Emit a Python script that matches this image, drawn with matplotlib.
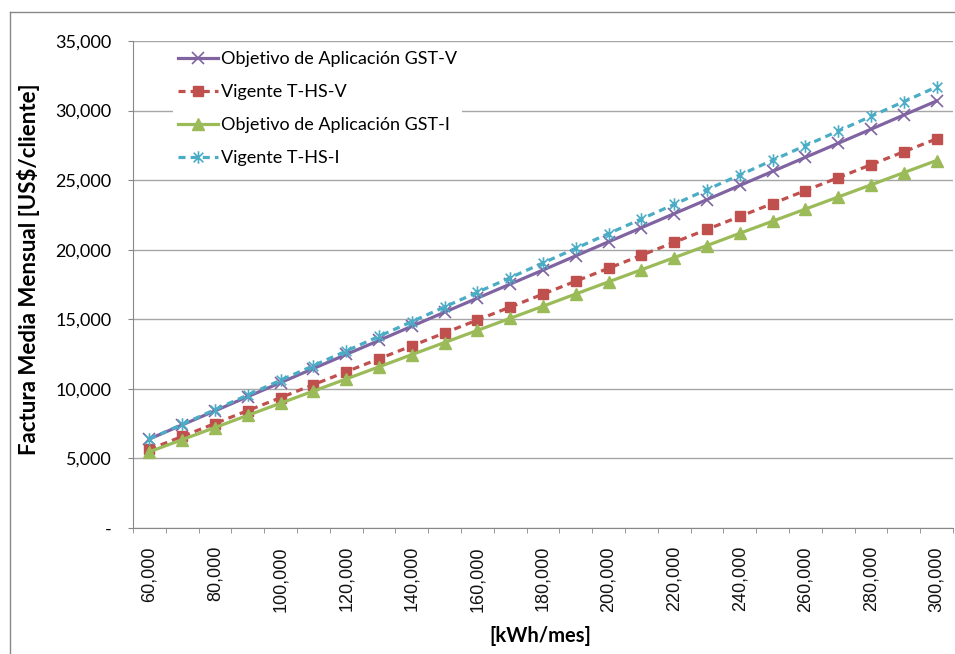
import matplotlib
matplotlib.use("Agg")
import matplotlib.pyplot as plt
from matplotlib.path import Path
from matplotlib.lines import Line2D
from matplotlib.ticker import FuncFormatter, FixedLocator

plt.rcParams['font.family'] = ['Lato', 'DejaVu Sans']

# consumo mensual (categorias)
kwh = [60000, 70000, 80000, 90000, 100000, 110000, 120000, 130000, 140000,
       150000, 160000, 170000, 180000, 190000, 200000, 210000, 220000,
       230000, 240000, 250000, 260000, 270000, 280000, 290000, 300000]

gst_v = [6400, 7410, 8420, 9440, 10450, 11460, 12470, 13480, 14500, 15510,
         16520, 17530, 18540, 19560, 20570, 21580, 22590, 23600, 24620,
         25630, 26640, 27650, 28660, 29680, 30690]
ths_v = [5650, 6580, 7510, 8440, 9370, 10300, 11230, 12160, 13090, 14020,
         14950, 15880, 16810, 17740, 18670, 19600, 20530, 21460, 22390,
         23320, 24250, 25180, 26110, 27040, 27970]
gst_i = [5480, 6350, 7220, 8100, 8970, 9840, 10710, 11580, 12460, 13330,
         14200, 15070, 15940, 16820, 17690, 18560, 19430, 20300, 21180,
         22050, 22920, 23790, 24660, 25540, 26410]
ths_i = [6400, 7450, 8510, 9560, 10620, 11670, 12720, 13780, 14830, 15890,
         16940, 17990, 19050, 20100, 21160, 22210, 23260, 24320, 25370,
         26430, 27480, 28530, 29590, 30640, 31700]

labels = ["Objetivo de Aplicación GST-V", "Vigente T-HS-V",
          "Objetivo de Aplicación GST-I", "Vigente T-HS-I"]

# asterisk marker like excel (x plus vertical bar)
ast = Path([(-1, -1), (1, 1), (-1, 1), (1, -1), (0, -1.3), (0, 1.3)],
           [Path.MOVETO, Path.LINETO, Path.MOVETO, Path.LINETO,
            Path.MOVETO, Path.LINETO])

fig = plt.figure(figsize=(9.55, 6.54), dpi=100)
ax = fig.add_axes([133/955, 1-528/654, (953-133)/955, (528-41)/654])

pos = list(range(len(kwh)))
lw = 2.3
ax.plot(pos, gst_v, color='#8064A2', lw=lw, marker='x', ms=8, mew=1.2,
        label=labels[0], zorder=3)
ax.plot(pos, ths_v, color='#C0504D', lw=lw, ls=(0, (2.2, 1.6)), marker='s',
        ms=7.5, mec='#C0504D', label=labels[1], zorder=3)
ax.plot(pos, gst_i, color='#9BBB59', lw=lw, marker='^', ms=8,
        label=labels[2], zorder=3)
ax.plot(pos, ths_i, color='#4BACC6', lw=lw, ls=(0, (2.2, 1.6)), marker=ast,
        ms=9, mew=1.2, mfc='none', mec='#4BACC6', label=labels[3], zorder=4)

ax.set_xlim(-0.5, len(kwh) - 0.5)
ax.set_ylim(0, 35000)

ax.xaxis.set_major_locator(FixedLocator(pos[::2]))
ax.set_xticklabels([f"{v:,}" for v in kwh[::2]], rotation=90, fontsize=13,
                   family='Liberation Sans', color='#111111')
ax.xaxis.set_minor_locator(FixedLocator([p - 0.5 for p in pos] + [pos[-1] + 0.5]))
ax.tick_params(axis='x', which='major', length=0, pad=13)
ax.tick_params(axis='x', which='minor', length=3.6, color='#888888', direction='out')

ax.set_yticks(range(0, 35001, 5000))
ax.yaxis.set_major_formatter(FuncFormatter(lambda v, p: '-' if v == 0 else f"{int(v):,}"))
ax.tick_params(axis='y', length=3.6, color='#888888', labelsize=13, pad=12)
ax.grid(axis='y', color='#a6a6a6', lw=1)
ax.set_axisbelow(True)

for s in ['top', 'right']:
    ax.spines[s].set_visible(False)
for s in ['left', 'bottom']:
    ax.spines[s].set_color('#888888')

leg = ax.legend(loc='upper left', bbox_to_anchor=(164/955, 1-37/654),
                bbox_transform=fig.transFigure, fontsize=13, handlelength=2.2,
                handletextpad=0.15, labelspacing=0.93, borderpad=0.3,
                frameon=True, fancybox=False, framealpha=1, edgecolor='white')
leg.get_frame().set_linewidth(0)

fig.text(29/955, 1-269/654, "Factura Media Mensual [US$/cliente]", rotation=90,
         ha='center', va='center', fontsize=16, fontweight='bold')
fig.text(540/955, 1-636/654, "[kWh/mes]", ha='center', va='center',
         fontsize=14.5, fontweight='bold')

# outer chart border
fig.add_artist(Line2D([9.5/955, 9.5/955], [0, 1-12/654], color='#888888', lw=1))
fig.add_artist(Line2D([9.5/955, 1], [1-12/654, 1-12/654], color='#888888', lw=1))

fig.savefig("out.png", dpi=100)
